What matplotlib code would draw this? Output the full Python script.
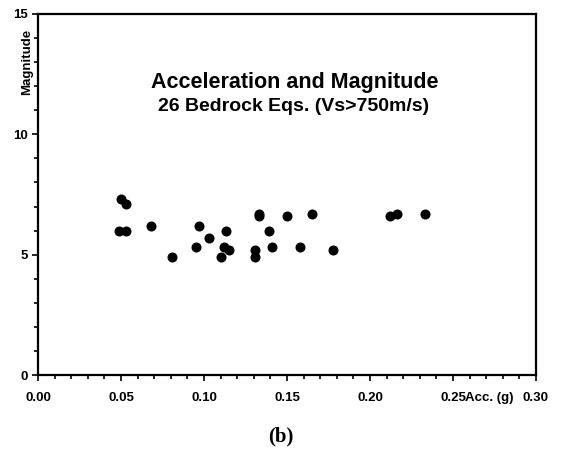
import matplotlib.pyplot as plt
from matplotlib.ticker import MultipleLocator

# Peak acceleration (g) and magnitude for 26 bedrock records
acc = [0.050, 0.053, 0.049, 0.053, 0.068, 0.081, 0.095, 0.097, 0.103, 0.110,
       0.113, 0.112, 0.115, 0.131, 0.131, 0.133, 0.133, 0.139, 0.141, 0.150,
       0.165, 0.158, 0.178, 0.212, 0.216, 0.233]
mag = [7.3, 7.1, 6.0, 6.0, 6.2, 4.9, 5.3, 6.2, 5.7, 4.9,
       6.0, 5.3, 5.2, 5.2, 4.9, 6.7, 6.6, 6.0, 5.3, 6.6,
       6.7, 5.3, 5.2, 6.6, 6.7, 6.7]

xticks = [0.00, 0.05, 0.10, 0.15, 0.20, 0.25, 0.30]
yticks = [0, 5, 10, 15]

plt.rcParams['font.family'] = ['Liberation Sans', 'DejaVu Sans']

fig = plt.figure(figsize=(5.61, 4.57), dpi=100)
ax = fig.add_axes([0.0677, 0.1794, 0.8877, 0.79])

ax.plot(acc, mag, 'o', color='black', markersize=6.2, linestyle='none')

ax.set_xlim(0, 0.30)
ax.set_ylim(0, 15)
ax.set_xticks(xticks)
ax.set_xticklabels([f"{t:.2f}" for t in xticks], fontsize=9.5, fontweight='bold')
ax.set_yticks(yticks)
ax.set_yticklabels([str(t) for t in yticks], fontsize=9.5, fontweight='bold')
ax.xaxis.set_minor_locator(MultipleLocator(0.01))
ax.yaxis.set_minor_locator(MultipleLocator(1))
ax.tick_params(which='both', direction='out', width=1.2, colors='black')
ax.tick_params(axis='x', which='major', length=4, pad=8)
ax.tick_params(axis='y', which='major', length=4.5, pad=3)
ax.tick_params(which='minor', length=3)

for s in ax.spines.values():
    s.set_linewidth(1.6)

ax.text(0.906, -0.063, 'Acc. (g)', transform=ax.transAxes, ha='center', va='center',
        fontsize=9.5, fontweight='bold')
ax.text(-0.022, 0.867, 'Magnitude', transform=ax.transAxes, rotation=90,
        ha='center', va='center', fontsize=9.5, fontweight='bold')

ax.text(0.515, 0.81, 'Acceleration and Magnitude', transform=ax.transAxes,
        ha='center', va='center', fontsize=15.5, fontweight='bold')
ax.text(0.513, 0.743, '26 Bedrock Eqs. (Vs>750m/s)', transform=ax.transAxes,
        ha='center', va='center', fontsize=14, fontweight='bold')

fig.text(0.5, 0.045, '(b)', ha='center', va='center', fontsize=15,
         fontweight='bold', family='Liberation Serif')

fig.savefig('out.png', dpi=100)
